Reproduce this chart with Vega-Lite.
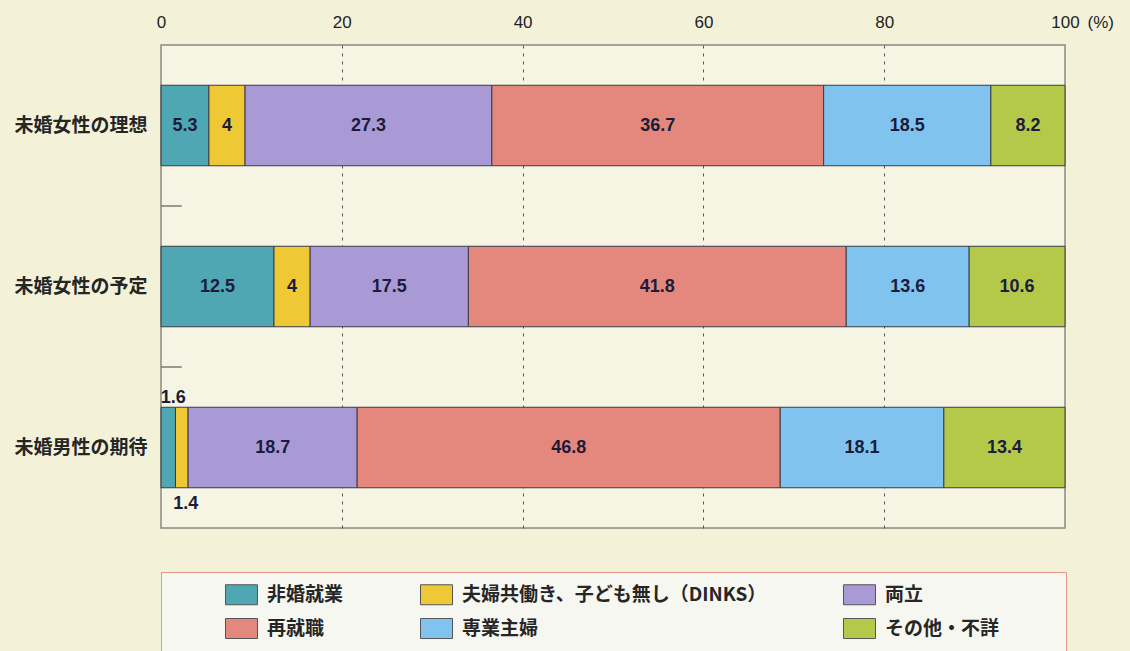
{
  "$schema": "https://vega.github.io/schema/vega-lite/v6.json",
  "width": 904,
  "height": 483,
  "autosize": {"type": "none"},
  "padding": {"left": 161, "top": 45, "right": 65, "bottom": 123},
  "background": "#f3f2d9",
  "config": {
    "view": {"fill": "#f6f5e3", "stroke": "#8a8a80", "strokeWidth": 1.5},
    "font": "Liberation Sans"
  },
  "data": {
    "values": [
      {"group": "未婚女性の理想", "type": "非婚就業", "k": 1, "value": 5.3},
      {"group": "未婚女性の理想", "type": "夫婦共働き、子ども無し（DINKS）", "k": 2, "value": 4},
      {"group": "未婚女性の理想", "type": "両立", "k": 3, "value": 27.3},
      {"group": "未婚女性の理想", "type": "再就職", "k": 4, "value": 36.7},
      {"group": "未婚女性の理想", "type": "専業主婦", "k": 5, "value": 18.5},
      {"group": "未婚女性の理想", "type": "その他・不詳", "k": 6, "value": 8.2},
      {"group": "未婚女性の予定", "type": "非婚就業", "k": 1, "value": 12.5},
      {"group": "未婚女性の予定", "type": "夫婦共働き、子ども無し（DINKS）", "k": 2, "value": 4},
      {"group": "未婚女性の予定", "type": "両立", "k": 3, "value": 17.5},
      {"group": "未婚女性の予定", "type": "再就職", "k": 4, "value": 41.8},
      {"group": "未婚女性の予定", "type": "専業主婦", "k": 5, "value": 13.6},
      {"group": "未婚女性の予定", "type": "その他・不詳", "k": 6, "value": 10.6},
      {"group": "未婚男性の期待", "type": "非婚就業", "k": 1, "value": 1.6},
      {"group": "未婚男性の期待", "type": "夫婦共働き、子ども無し（DINKS）", "k": 2, "value": 1.4},
      {"group": "未婚男性の期待", "type": "両立", "k": 3, "value": 18.7},
      {"group": "未婚男性の期待", "type": "再就職", "k": 4, "value": 46.8},
      {"group": "未婚男性の期待", "type": "専業主婦", "k": 5, "value": 18.1},
      {"group": "未婚男性の期待", "type": "その他・不詳", "k": 6, "value": 13.4}
    ]
  },
  "transform": [
    {"stack": "value", "groupby": ["group"], "sort": [{"field": "k", "order": "ascending"}], "as": ["x0", "x1"]},
    {"calculate": "(datum.x0 + datum.x1) / 2", "as": "mid"}
  ],
  "encoding": {
    "y": {
      "field": "group",
      "type": "nominal",
      "sort": ["未婚女性の理想", "未婚女性の予定", "未婚男性の期待"],
      "scale": {"paddingInner": 0.5, "paddingOuter": 0.25},
      "axis": {
        "title": null,
        "domain": false,
        "ticks": false,
        "labelPadding": 14,
        "labelFont": "Noto Sans CJK JP",
        "labelFontSize": 19,
        "labelColor": "#262626",
        "labelFontWeight": "bold"
      }
    }
  },
  "layer": [
    {
      "transform": [{"filter": "datum.k == 1 && datum.group != '未婚女性の理想'"}],
      "mark": {"type": "rule", "color": "#7a7a72", "strokeWidth": 1.5},
      "encoding": {
        "y": {"field": "group", "type": "nominal", "bandPosition": -0.5},
        "x": {"datum": 0},
        "x2": {"datum": 2.3}
      }
    },
    {
      "mark": {"type": "bar", "stroke": "#3a3a48", "strokeWidth": 1},
      "encoding": {
        "x": {
          "field": "x0",
          "type": "quantitative",
          "scale": {"domain": [0, 100], "nice": false},
          "axis": {
            "orient": "top",
            "values": [0, 20, 40, 60, 80, 100],
            "domain": false,
            "ticks": false,
            "labelFlush": false,
            "labelPadding": 18,
            "labelBaseline": "alphabetic",
            "labelFontSize": 17,
            "labelColor": "#222222",
            "grid": true,
            "gridColor": "#555555",
            "gridDash": [3, 5],
            "gridWidth": 1,
            "gridOpacity": {"condition": {"test": "datum.value == 0 || datum.value == 100", "value": 0}, "value": 1},
            "title": "(%)",
            "titleFontSize": 17,
            "titleFontWeight": "normal",
            "titleColor": "#222222",
            "titleAngle": 0,
            "titleAlign": "left",
            "titleBaseline": "alphabetic",
            "titleX": 926,
            "titleY": -18
          }
        },
        "x2": {"field": "x1"},
        "color": {
          "field": "type",
          "type": "nominal",
          "scale": {
            "domain": ["非婚就業", "夫婦共働き、子ども無し（DINKS）", "両立", "再就職", "専業主婦", "その他・不詳"],
            "range": ["#4ea7b3", "#efc935", "#a99ad6", "#e4877d", "#7fc3ee", "#b4c94a"]
          },
          "legend": {
            "title": "　",
            "titleOrient": "right",
            "titlePadding": 55,
            "titleFontSize": 15,
            "orient": "bottom",
            "direction": "horizontal",
            "columns": 3,
            "offset": 44,
            "padding": 12,
            "fillColor": "#f7f7f1",
            "strokeColor": "#e8968a",
            "symbolType": "M-1.6,-1H1.6V1H-1.6Z",
            "symbolSize": 400,
            "symbolStrokeColor": "#555555",
            "symbolStrokeWidth": 1,
            "symbolOpacity": 1,
            "symbolOffset": 58,
            "labelOffset": 15,
            "columnPadding": 24,
            "rowPadding": 9,
            "labelFont": "Noto Sans CJK JP",
            "labelFontSize": 19,
            "labelFontWeight": "bold",
            "labelColor": "#262626",
            "labelLimit": 400
          }
        }
      }
    },
    {
      "transform": [{"filter": "datum.value >= 2"}],
      "mark": {"type": "text", "fontSize": 18, "fontWeight": "bold", "color": "#1c1c3a"},
      "encoding": {
        "x": {"field": "mid", "type": "quantitative"},
        "text": {"field": "value", "type": "nominal"}
      }
    },
    {
      "transform": [{"filter": "datum.value < 2 && datum.k == 1"}],
      "mark": {"type": "text", "fontSize": 18, "fontWeight": "bold", "color": "#1c1c3a", "dy": -50, "dx": 5},
      "encoding": {
        "x": {"field": "mid", "type": "quantitative"},
        "text": {"field": "value", "type": "nominal"}
      }
    },
    {
      "transform": [{"filter": "datum.value < 2 && datum.k == 2"}],
      "mark": {"type": "text", "fontSize": 18, "fontWeight": "bold", "color": "#1c1c3a", "dy": 56, "dx": 4},
      "encoding": {
        "x": {"field": "mid", "type": "quantitative"},
        "text": {"field": "value", "type": "nominal"}
      }
    }
  ]
}
